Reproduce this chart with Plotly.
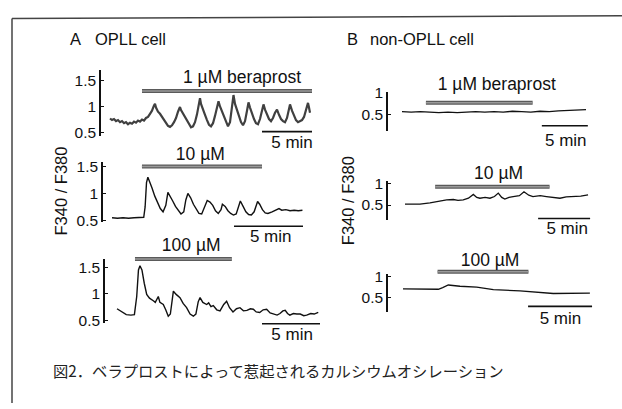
import plotly.graph_objects as go

W, H = 622, 409
FONT = "Liberation Sans, Arial, sans-serif"

# ---------------- data (time in min, ratio F340/F380) ----------------
A1_t = [0, 0.2, 0.4, 0.6, 0.8, 1.0, 1.2, 1.4, 1.6, 1.8, 2.0, 2.2, 2.4, 2.6, 2.8, 3.0, 3.2, 3.4, 3.6, 3.8,
        4.0, 4.2, 4.4, 4.5, 4.6, 4.8, 5.0, 5.2, 5.4, 5.6, 5.8, 6.0, 6.2, 6.4, 6.6, 6.8, 7.0, 7.1, 7.3, 7.5,
        7.7, 7.9, 8.1, 8.3, 8.5, 8.7, 8.9, 9.0, 9.1, 9.3, 9.5, 9.7, 9.9, 10.1, 10.3, 10.5, 10.7, 10.85, 11.0,
        11.2, 11.4, 11.6, 11.8, 12.0, 12.2, 12.35, 12.5, 12.7, 12.9, 13.1, 13.3, 13.5, 13.7, 13.85, 14.0,
        14.2, 14.4, 14.6, 14.8, 15.0, 15.2, 15.35, 15.5, 15.7, 15.9, 16.1, 16.3, 16.5, 16.7, 16.9, 17.1,
        17.3, 17.5, 17.7, 17.9, 18.0, 18.2, 18.4, 18.6, 18.8, 19.0, 19.2, 19.4, 19.6, 19.8, 19.9, 20.0]
A1_v = [0.77, 0.74, 0.76, 0.72, 0.74, 0.70, 0.72, 0.68, 0.70, 0.66, 0.69, 0.67, 0.71, 0.69, 0.73, 0.71, 0.75, 0.73, 0.78, 0.80,
        0.86, 0.92, 1.02, 1.05, 0.98, 0.90, 0.86, 0.80, 0.74, 0.68, 0.63, 0.61, 0.64, 0.70, 0.78, 0.90, 0.99, 0.93, 0.86, 0.80,
        0.72, 0.65, 0.60, 0.62, 0.70, 0.85, 1.08, 1.16, 1.05, 0.93, 0.84, 0.74, 0.65, 0.62, 0.68, 0.82, 1.00, 1.10, 1.00,
        0.90, 0.78, 0.68, 0.62, 0.70, 0.95, 1.22, 1.05, 0.92, 0.80, 0.70, 0.64, 0.72, 0.92, 1.08, 0.98,
        0.86, 0.76, 0.68, 0.66, 0.76, 0.95, 1.04, 0.94, 0.84, 0.76, 0.72, 0.78, 0.88, 0.94, 0.84, 0.76,
        0.72, 0.70, 0.78, 0.96, 1.04, 0.92, 0.82, 0.74, 0.70, 0.72, 0.74, 0.80, 0.94, 1.07, 0.98, 0.88]

A2_t = [0, 0.4, 0.8, 1.2, 1.6, 2.0, 2.3, 2.4, 2.5, 2.6, 2.7, 2.9, 3.1, 3.3, 3.5, 3.7, 3.9, 4.05, 4.2, 4.4,
        4.6, 4.8, 5.0, 5.2, 5.35, 5.5, 5.7, 5.9, 6.1, 6.3, 6.5, 6.7, 6.9, 7.1, 7.3, 7.5, 7.7, 7.9, 8.0, 8.2,
        8.4, 8.6, 8.8, 9.0, 9.15, 9.3, 9.5, 9.7, 9.9, 10.1, 10.3, 10.55, 10.7, 10.9, 11.1, 11.3, 11.6, 11.9,
        12.1, 12.3, 12.6, 12.9, 13.2, 13.5, 13.8]
A2_v = [0.55, 0.54, 0.55, 0.54, 0.55, 0.55, 0.56, 0.75, 1.20, 1.30, 1.24, 1.10, 0.95, 0.82, 0.72, 0.66, 0.78, 1.02, 0.96, 0.86,
        0.76, 0.68, 0.62, 0.66, 0.88, 1.00, 0.92, 0.80, 0.70, 0.63, 0.62, 0.74, 0.87, 0.84, 0.78, 0.68, 0.63, 0.70, 0.80, 0.76,
        0.68, 0.63, 0.60, 0.62, 0.75, 0.86, 0.76, 0.66, 0.61, 0.60, 0.66, 0.85, 0.80, 0.70, 0.64, 0.63, 0.66, 0.70,
        0.72, 0.69, 0.70, 0.68, 0.69, 0.68, 0.69]

A3_t = [0, 0.4, 0.8, 1.2, 1.5, 1.7, 1.85, 1.98, 2.15, 2.35, 2.56, 2.8, 3.0, 3.13, 3.3, 3.45, 3.56, 3.7, 3.99, 4.2,
        4.42, 4.6, 4.75, 4.86, 5.1, 5.43, 5.7, 6.0, 6.3, 6.58, 6.8, 7.0, 7.16, 7.4, 7.73, 7.9, 8.1, 8.3, 8.6, 8.88,
        9.2, 9.45, 9.7, 10.0, 10.3, 10.6, 10.9, 11.2, 11.5, 11.75, 12.0, 12.3, 12.6, 12.9, 13.2, 13.5, 13.8, 14.05,
        14.3, 14.5, 14.7, 14.9, 15.2, 15.5, 15.8, 16.1, 16.35, 16.7, 17.0, 17.35]
A3_v = [0.72, 0.66, 0.61, 0.60, 0.61, 0.95, 1.45, 1.53, 1.45, 1.20, 0.99, 0.92, 0.88, 0.87, 0.84, 0.92, 0.95, 0.84, 0.80, 0.70,
        0.58, 0.62, 0.95, 1.05, 0.99, 0.93, 0.82, 0.74, 0.62, 0.58, 0.62, 0.85, 0.93, 0.84, 0.80, 0.83, 0.76, 0.78, 0.70, 0.68,
        0.80, 0.86, 0.74, 0.66, 0.72, 0.74, 0.68, 0.69, 0.72, 0.71, 0.66, 0.65, 0.70, 0.71, 0.64, 0.62, 0.60, 0.63,
        0.68, 0.69, 0.63, 0.60, 0.63, 0.62, 0.62, 0.59, 0.60, 0.63, 0.62, 0.65]

B1_t = [0, 1, 2, 3, 4, 5, 6, 7, 8, 9, 10, 11, 12, 13, 14, 15, 16, 17, 18, 19, 20]
B1_v = [0.56, 0.55, 0.56, 0.55, 0.54, 0.55, 0.54, 0.55, 0.56, 0.55, 0.56, 0.55, 0.57, 0.56, 0.55, 0.57, 0.56, 0.58, 0.59, 0.60, 0.61]

B2_t = [0, 1.44, 2.4, 3.37, 4.0, 4.65, 5.1, 5.6, 6.1, 6.57, 6.9, 7.2, 7.7, 8.17, 8.6, 8.97, 9.3, 9.6, 10.0, 10.4,
        11.0, 11.44, 11.9, 12.3, 13.0, 13.6, 14.2, 14.9, 15.5, 16.2, 16.9, 17.6]
B2_v = [0.52, 0.52, 0.55, 0.60, 0.62, 0.63, 0.61, 0.62, 0.66, 0.75, 0.68, 0.66, 0.68, 0.66, 0.70, 0.78, 0.68, 0.64, 0.68, 0.70,
        0.72, 0.81, 0.73, 0.70, 0.72, 0.70, 0.68, 0.66, 0.69, 0.70, 0.71, 0.74]

B3_t = [0, 1.33, 2.76, 3.1, 3.54, 4.45, 5.76, 7.06, 9.14, 11.74, 13.3, 14.6]
B3_v = [0.71, 0.70, 0.70, 0.74, 0.80, 0.77, 0.75, 0.69, 0.66, 0.60, 0.60, 0.61]

STIM_ON = [3.2, 2.17, 1.55, 2.6, 2.9, 2.7]          # min
STIM_OFF = [20.2, 10.87, 9.9, 14.2, 13.9, 9.8]       # min
STIM_LABELS = ["1 µM beraprost", "10 µM", "100 µM", "1 µM beraprost", "10 µM", "100 µM"]
SCALE_MIN = 5
SCALE_END = [20.2, 13.84, 17.5, 20.2, 17.8, 14.77]   # min
A_TICKS = [0.5, 1, 1.5]
A_TICKTEXT = ["0.5", "1", "1.5"]
B_TICKS = [0.5, 1]
B_TICKTEXT = ["0.5", "1"]
Y_TITLE = "F340 / F380"
CAPTION = "図2．ベラプロストによって惹起されるカルシウムオシレーション"

SERIES = [(A1_t, A1_v), (A2_t, A2_v), (A3_t, A3_v), (B1_t, B1_v), (B2_t, B2_v), (B3_t, B3_v)]

# ---------------- layout geometry (pixels) ----------------
GEOM = [
    dict(ax=101, t0=110, ppm=10.0, one=102, ppu=54, top=64, bot=133, right=322,
         stim_py=86, lab_py=73, lab_t=13.2, sc_py=128, sclab_py=141, sclab_t=18.2, ticks="A", lw=2.2, col="#404040"),
    dict(ax=103, t0=112, ppm=13.8, one=192, ppu=56, top=159, bot=222, right=322,
         stim_py=164, lab_py=153, lab_t=6.4, sc_py=226, sclab_py=238, sclab_t=11.5, ticks="A", lw=1.4, col="#111"),
    dict(ax=105, t0=117, ppm=11.6, one=296, ppu=55, top=260, bot=326, right=322,
         stim_py=260, lab_py=247, lab_t=6.4, sc_py=327, sclab_py=339, sclab_t=15.1, ticks="A", lw=1.4, col="#111"),
    dict(ax=388, t0=402, ppm=9.2, one=88, ppu=44, top=87, bot=127, right=600,
         stim_py=98, lab_py=80, lab_t=10.3, sc_py=122, sclab_py=138, sclab_t=17.8, ticks="B", lw=1.3, col="#111"),
    dict(ax=388, t0=405, ppm=10.4, one=182, ppu=44, top=179, bot=220, right=600,
         stim_py=185, lab_py=173, lab_t=9.0, sc_py=218, sclab_py=230, sclab_t=15.6, ticks="B", lw=1.3, col="#111"),
    dict(ax=388, t0=403, ppm=12.8, one=278, ppu=44, top=275, bot=315, right=600,
         stim_py=273, lab_py=263, lab_t=6.8, sc_py=309, sclab_py=323, sclab_t=12.3, ticks="B", lw=1.3, col="#111"),
]


def t_of(px, g):
    return (px - g["t0"]) / g["ppm"]


def v_of(py, g):
    return 1 + (g["one"] - py) / g["ppu"]


fig = go.Figure()
layout = {}

for i, (g, (ts, vs)) in enumerate(zip(GEOM, SERIES)):
    k = i + 1          # visible axis pair
    h = i + 7          # hidden helper pair (full figure)
    xs, ys = ("x" if k == 1 else f"x{k}"), ("y" if k == 1 else f"y{k}")
    hx, hy = f"x{h}", f"y{h}"
    xa, ya = ("xaxis" if k == 1 else f"xaxis{k}"), ("yaxis" if k == 1 else f"yaxis{k}")

    layout[xa] = dict(domain=[g["ax"] / W, g["right"] / W],
                      range=[t_of(g["ax"], g), t_of(g["right"], g)],
                      visible=False, anchor=ys)
    tv = A_TICKS if g["ticks"] == "A" else B_TICKS
    tt = A_TICKTEXT if g["ticks"] == "A" else B_TICKTEXT
    layout[ya] = dict(domain=[1 - g["bot"] / H, 1 - g["top"] / H],
                      range=[v_of(g["bot"], g), v_of(g["top"], g)],
                      anchor=xs, showline=True, linecolor="#111", linewidth=1.6,
                      ticks="inside", ticklen=3, tickwidth=1, tickcolor="#111",
                      tickvals=tv, ticktext=tt, showgrid=False, zeroline=False,
                      tickfont=dict(family=FONT, size=15.5, color="#111"))
    layout[f"xaxis{h}"] = dict(domain=[0, 1], range=[t_of(0, g), t_of(W, g)],
                               visible=False, anchor=hy)
    layout[f"yaxis{h}"] = dict(domain=[0, 1], range=[v_of(H, g), v_of(0, g)],
                               visible=False, anchor=hx)

    # calcium trace
    fig.add_trace(go.Scatter(x=ts, y=vs, mode="lines", xaxis=xs, yaxis=ys,
                             line=dict(color=g["col"], width=g["lw"]), showlegend=False,
                             hoverinfo="skip"))
    # stimulus bar (dark outline + grey core)
    sv = v_of(g["stim_py"], g)
    fig.add_trace(go.Scatter(x=[STIM_ON[i], STIM_OFF[i]], y=[sv, sv], mode="lines",
                             xaxis=hx, yaxis=hy, line=dict(color="#5a5a5a", width=4),
                             showlegend=False, hoverinfo="skip"))
    fig.add_trace(go.Scatter(x=[STIM_ON[i], STIM_OFF[i]], y=[sv, sv], mode="lines",
                             xaxis=hx, yaxis=hy, line=dict(color="#9a9a9a", width=1.5),
                             showlegend=False, hoverinfo="skip"))
    # stimulus label
    fig.add_trace(go.Scatter(x=[g["lab_t"]], y=[v_of(g["lab_py"], g)], mode="text",
                             text=[STIM_LABELS[i]], textposition="middle center",
                             textfont=dict(family=FONT, size=17.5, color="#111"),
                             xaxis=hx, yaxis=hy, showlegend=False, hoverinfo="skip"))
    # scale bar
    scv = v_of(g["sc_py"], g)
    fig.add_trace(go.Scatter(x=[SCALE_END[i] - SCALE_MIN, SCALE_END[i]], y=[scv, scv], mode="lines",
                             xaxis=hx, yaxis=hy, line=dict(color="#111", width=1.6),
                             showlegend=False, hoverinfo="skip"))
    fig.add_trace(go.Scatter(x=[g["sclab_t"]], y=[v_of(g["sclab_py"], g)], mode="text",
                             text=[f"{SCALE_MIN} min"], textposition="middle center",
                             textfont=dict(family=FONT, size=17, color="#111"),
                             xaxis=hx, yaxis=hy, showlegend=False, hoverinfo="skip"))

annots = [
    dict(text="A", x=68 / W, y=1 - 32 / H, xanchor="left"),
    dict(text="OPLL cell", x=93 / W, y=1 - 32 / H, xanchor="left"),
    dict(text="B", x=345 / W, y=1 - 32 / H, xanchor="left"),
    dict(text="non-OPLL cell", x=368 / W, y=1 - 32 / H, xanchor="left"),
    dict(text=Y_TITLE, x=61 / W, y=1 - 190 / H, xanchor="center", textangle=-90),
    dict(text=Y_TITLE, x=348 / W, y=1 - 200 / H, xanchor="center", textangle=-90),
]
annotations = []
for a in annots:
    a.update(xref="paper", yref="paper", yanchor="middle", showarrow=False,
             font=dict(family=FONT, size=16.5, color="#111"))
    annotations.append(a)
annotations.append(dict(text=CAPTION, x=278 / W, y=1 - 375 / H, xref="paper", yref="paper",
                        xanchor="center", yanchor="middle", showarrow=False,
                        font=dict(family="Noto Sans CJK JP", size=15.3, color="#222")))

shapes = [
    dict(type="line", xref="paper", yref="paper", x0=12 / W, y0=1 - 11 / H, x1=1, y1=1 - 8 / H,
         line=dict(color="#444", width=1.5)),
    dict(type="line", xref="paper", yref="paper", x0=12 / W, y0=1 - 11 / H, x1=12 / W, y1=0,
         line=dict(color="#444", width=1.5)),
]

fig.update_layout(width=W, height=H, autosize=False,
                  margin=dict(l=0, r=0, t=0, b=0),
                  paper_bgcolor="white", plot_bgcolor="rgba(0,0,0,0)",
                  annotations=annotations, shapes=shapes, showlegend=False, **layout)

fig.write_html("out.html")
